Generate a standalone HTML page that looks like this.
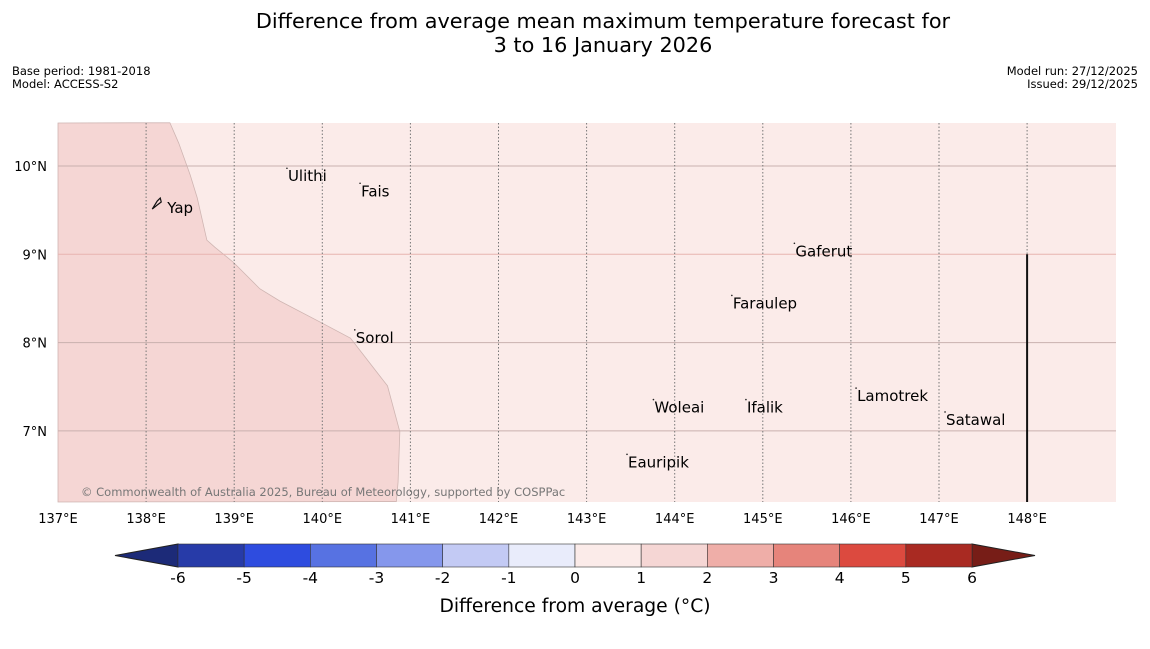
<!DOCTYPE html>
<html><head><meta charset="utf-8"><style>
body{margin:0;background:#fff;width:1150px;height:644px;overflow:hidden;font-family:"Liberation Sans","DejaVu Sans",sans-serif}
</style></head><body>
<svg width="1150" height="644" xmlns="http://www.w3.org/2000/svg" font-family="DejaVu Sans, Liberation Sans, sans-serif">
<text x="603" y="28" text-anchor="middle" font-size="20.8">Difference from average mean maximum temperature forecast for</text>
<text x="603" y="52" text-anchor="middle" font-size="20.8">3 to 16 January 2026</text>
<text x="12" y="75" font-size="11.5">Base period: 1981-2018</text>
<text x="12" y="88" font-size="11.5">Model: ACCESS-S2</text>
<text x="1138" y="75" font-size="11.5" text-anchor="end">Model run: 27/12/2025</text>
<text x="1138" y="88" font-size="11.5" text-anchor="end">Issued: 29/12/2025</text>
<g id="map"></g>
<g id="cbar"></g>
<text x="575" y="612" text-anchor="middle" font-size="18.7">Difference from average (°C)</text>
</svg>
<script>
const lonTicks=[137,138,139,140,141,142,143,144,145,146,147,148];
const latTicks=[10,9,8,7];
const boundaryLon=[138.27,138.37,138.5,138.58,138.69,138.78,138.99,139.29,139.52,140.0,140.32,140.74,140.88,140.86,140.84];
const boundaryLat=[10.49,10.26,9.90,9.64,9.16,9.08,8.91,8.61,8.47,8.22,8.05,7.51,6.99,6.42,6.20];
const places=["Yap","Ulithi","Fais","Sorol","Gaferut","Faraulep","Woleai","Ifalik","Lamotrek","Satawal","Eauripik"];
const placeLon=[138.24,139.61,140.44,140.38,145.37,144.66,143.77,144.82,146.07,147.08,143.47];
const placeLat=[9.49,9.85,9.68,8.02,9.00,8.41,7.23,7.23,7.36,7.09,6.61];
const cbLevels=[-6,-5,-4,-3,-2,-1,0,1,2,3,4,5,6];
const cbColors=["#273ba8","#2e4cdf","#5772e2","#8597ec","#c3caf4","#e9ecfb","#fbebe9","#f5d6d4","#efaea8","#e6847b","#dc4a3f","#a92a22"];
const NS="http://www.w3.org/2000/svg";
const x0=58,x1=1116,y0=123,y1=502;
const X=lon=>58+(lon-137)*88.1;
const Y=lat=>166+(10-lat)*88.3;
function mk(tag,attrs,parent){const e=document.createElementNS(NS,tag);for(const k in attrs)e.setAttribute(k,attrs[k]);parent.appendChild(e);return e;}
const map=document.getElementById('map');
const bg=mk('rect',{x:x0,y:y0,width:x1-x0,height:y1-y0,fill:'#fbebe9'},map);


let pts=[[x0,y0]];
for(let i=0;i<boundaryLon.length;i++)pts.push([X(boundaryLon[i]),Y(boundaryLat[i])]);
pts.push([x0,y1]);
const poly=mk('polygon',{points:pts.map(p=>p.join(',')).join(' '),fill:'#f5d6d4',stroke:'#cfb5b2','stroke-width':0.8},map);


latTicks.forEach(l=>{
 const y=Y(l);
 const ln=mk('line',{x1:x0,x2:x1,y1:y,y2:y,stroke:l===9?'#e8b4b0':'#c9b0ae','stroke-width':1},map);
 
 
 const t=mk('text',{x:47,y:y+5,'text-anchor':'end','font-size':13},map);t.textContent=l+'°N';
 
 
});
lonTicks.forEach(l=>{
 const x=X(l);
 if(l>137){const ln=mk('line',{x1:x,x2:x,y1:y0,y2:y1,stroke:'#777','stroke-width':1,'stroke-dasharray':'1.5,2'},map);
 
 }
 const t=mk('text',{x:x,y:523,'text-anchor':'middle','font-size':13},map);t.textContent=l+'°E';
 
 
});
const bl=mk('line',{x1:X(148),x2:X(148),y1:Y(9),y2:y1,stroke:'#111','stroke-width':2},map);


places.forEach((p,i)=>{
 const x=X(placeLon[i]),y=Y(placeLat[i]);
 if(p==='Yap'){
  const ip=mk('path',{d:`M${x-15},${y-2} L${x-10},${y-10} L${x-7},${y-13} L${x-6},${y-9} L${x-10},${y-6} Z`,fill:'none',stroke:'#111','stroke-width':1.2},map);
  
  
 } else {
  const d=mk('circle',{cx:x-1,cy:y-11,r:0.8,fill:'#222'},map);
  
  
 }
 const t=mk('text',{x:x,y:y+2,'font-size':15},map);t.textContent=p;
 
 
});
const cp=mk('text',{x:81,y:496,'font-size':11.5,fill:'#777'},map);
cp.textContent='© Commonwealth of Australia 2025, Bureau of Meteorology, supported by COSPPac';


const cb=document.getElementById('cbar');
const cx0=178,cx1=972,cy0=544,cy1=567;
const CX=v=>cx0+(v-cbLevels[0])/(cbLevels[cbLevels.length-1]-cbLevels[0])*(cx1-cx0);
const lt=mk('polygon',{points:`${cx0},${cy0} ${cx0},${cy1} 115,555.5`,fill:'#1c2a78',stroke:'#222'},cb);


const rt=mk('polygon',{points:`${cx1},${cy0} ${cx1},${cy1} 1035,555.5`,fill:'#771d17',stroke:'#222'},cb);


cbColors.forEach((c,i)=>{
 const r=mk('rect',{x:CX(cbLevels[i]),y:cy0,width:CX(cbLevels[i+1])-CX(cbLevels[i]),height:cy1-cy0,fill:c,stroke:'#333','stroke-width':0.6},cb);
 
 
});
cbLevels.forEach(v=>{
 const t=mk('text',{x:CX(v),y:583,'text-anchor':'middle','font-size':15.5},cb);t.textContent=v;
 
 
});
</script>
</body></html>
